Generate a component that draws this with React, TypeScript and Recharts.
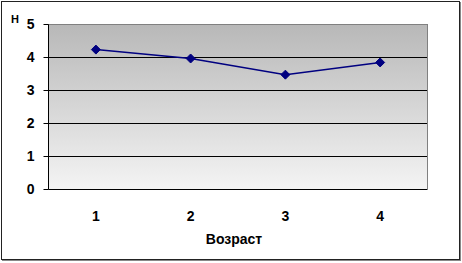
import { LineChart, Line, XAxis, YAxis, CartesianGrid, ReferenceLine } from "recharts";

// возрастные группы и значения Н
const ages = [1, 2, 3, 4];
const hValues = [4.24, 3.97, 3.48, 3.85];
const yTicks = [0, 1, 2, 3, 4, 5];
const bandTicks = [0.5, 1.5, 2.5, 3.5, 4.5];

const data = ages.map((age, i) => ({ age, h: hValues[i] }));

const font = "'Liberation Sans', Arial, sans-serif";

interface DotProps {
  cx?: number;
  cy?: number;
  index?: number;
}

function Diamond({ cx, cy, index }: DotProps) {
  if (cx == null || cy == null) return null;
  const r = 4.5;
  return (
    <polygon
      key={index}
      points={`${cx},${cy - r} ${cx + r},${cy} ${cx},${cy + r} ${cx - r},${cy}`}
      fill="#000080"
      stroke="#000080"
    />
  );
}

export default function App() {
  return (
    <div style={{ position: "fixed", left: 0, top: 0, width: 462, height: 263, background: "#fff" }}>
      <div
        style={{
          position: "absolute",
          left: 1,
          top: 1,
          width: 459,
          height: 259,
          boxSizing: "border-box",
          border: "1px solid #222",
          boxShadow: "1px 1px 0 #888",
        }}
      />
      <div
        style={{
          position: "absolute",
          left: 11,
          top: 13,
          fontFamily: font,
          fontWeight: "bold",
          fontSize: 11,
          color: "#000",
        }}
      >
        Н
      </div>
      <div style={{ position: "absolute", left: 0, top: 0 }}>
        <LineChart width={462} height={263} data={data} margin={{ top: 24.5, right: 34.5, bottom: 0, left: 0.5 }}>
          <defs>
            <linearGradient id="plotBg" x1="0" y1="0" x2="0" y2="1">
              <stop offset="0%" stopColor="#b8b8b8" />
              <stop offset="100%" stopColor="#f4f4f4" />
            </linearGradient>
          </defs>
          <CartesianGrid vertical={false} stroke="#000" strokeWidth={1} fill="url(#plotBg)" fillOpacity={1} />
          <XAxis
            dataKey="age"
            type="number"
            domain={[0.5, 4.5]}
            ticks={bandTicks}
            tick={false}
            height={0}
            tickSize={4}
            axisLine={{ stroke: "#808080", strokeWidth: 2 }}
            tickLine={{ stroke: "#000" }}
          />
          <XAxis
            xAxisId="labels"
            dataKey="age"
            type="number"
            domain={[0.5, 4.5]}
            ticks={ages}
            height={73.5}
            axisLine={false}
            tickLine={false}
            tickSize={0}
            tickMargin={22}
            tick={{ fill: "#000", fontSize: 14, fontWeight: "bold", fontFamily: font }}
            label={{
              value: "Возраст",
              position: "insideBottom",
              offset: 19,
              dx: -4,
              fill: "#000",
              fontSize: 14,
              fontWeight: "bold",
              fontFamily: font,
            }}
          />
          <YAxis
            domain={[0, 5]}
            ticks={yTicks}
            width={48}
            interval={0}
            tickSize={5}
            tickMargin={9}
            axisLine={{ stroke: "#000", strokeWidth: 1 }}
            tickLine={{ stroke: "#000" }}
            tick={{ fill: "#000", fontSize: 14, fontWeight: "bold", fontFamily: font }}
          />
          <ReferenceLine y={5} stroke="#808080" strokeWidth={1} />
          <ReferenceLine x={4.5} stroke="#808080" strokeWidth={1} />
          <Line
            dataKey="h"
            stroke="#000080"
            strokeWidth={1.5}
            dot={<Diamond />}
            activeDot={false}
            isAnimationActive={false}
          />
        </LineChart>
      </div>
    </div>
  );
}
